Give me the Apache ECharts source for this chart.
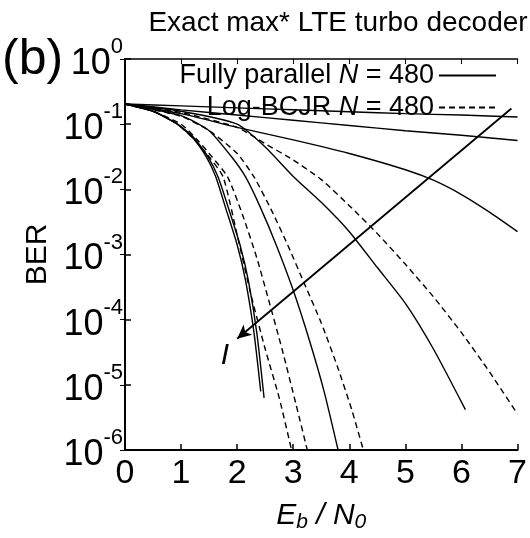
<!DOCTYPE html>
<html>
<head>
<meta charset="utf-8">
<script src="https://cdn.jsdelivr.net/npm/echarts@6/dist/echarts.min.js"></script>
<style>
  html, body { margin: 0; background: #fff; }
  #chart { width: 530px; height: 538px; }
</style>
</head>
<body>
<div id="chart"></div>
<script>
// Eb/N0 points and BER, one pair of arrays per curve
// Fully parallel (solid), iterations increase from S1 to S7
const ebS1 = [0, 1, 2, 3, 4, 5, 6, 7];
const berS1 = [0.204, 0.191, 0.178, 0.166, 0.155, 0.145, 0.138, 0.129];
const ebS2 = [0, 1, 2, 3, 4, 5, 6, 7];
const berS2 = [0.204, 0.166, 0.138, 0.115, 0.0955, 0.0794, 0.0676, 0.0562];
const ebS3 = [0, 1, 2, 3, 4, 5, 5.5, 6, 6.5, 7];
const berS3 = [0.204, 0.145, 0.0891, 0.0575, 0.0355, 0.02, 0.0138, 0.00832, 0.00447, 0.00224];
const ebS4 = [0, 1, 2, 2.5, 3, 3.5, 4, 4.5, 5, 5.5, 6.07];
const berS4 = [0.204, 0.158, 0.1, 0.0447, 0.0158, 0.00631, 0.00224, 6.31e-4, 1.78e-4, 3.55e-5, 4.17e-6];
const ebS5 = [0, 1, 1.5, 1.9, 2.15, 2.4, 2.7, 3.0, 3.3, 3.55, 3.8];
const berS5 = [0.204, 0.135, 0.0794, 0.0316, 0.0155, 0.00562, 0.00138, 2.82e-4, 4.47e-5, 7.94e-6, 1e-6];
const ebS6 = [0, 0.5, 0.92, 1.2, 1.45, 1.62, 1.8, 2.0, 2.15, 2.3, 2.42];
const berS6 = [0.204, 0.158, 0.102, 0.0631, 0.0316, 0.0155, 0.00501, 0.00141, 3.98e-4, 6.31e-5, 7.94e-6];
const ebS7 = [0, 0.5, 0.92, 1.22, 1.48, 1.66, 1.85, 2.05, 2.2, 2.35, 2.48];
const berS7 = [0.204, 0.158, 0.102, 0.0631, 0.0316, 0.0155, 0.00501, 0.00141, 3.98e-4, 6.31e-5, 6.31e-6];

// Log-BCJR (dashed)
const ebD4 = [0, 1, 2, 2.5, 3, 3.5, 4, 4.5, 5, 5.5, 6, 6.5, 7];
const berD4 = [0.204, 0.151, 0.0891, 0.0501, 0.0282, 0.0141, 0.00562, 0.00209, 7.08e-4, 2.24e-4, 6.31e-5, 1.58e-5, 3.55e-6];
const ebD5 = [0, 1, 1.5, 2, 2.3, 2.6, 2.9, 3.2, 3.5, 3.8, 4.05, 4.25];
const berD5 = [0.204, 0.132, 0.0794, 0.0355, 0.0155, 0.00501, 0.00141, 3.55e-4, 8.91e-5, 1.78e-5, 3.98e-6, 1e-6];
const ebD6 = [0, 0.5, 1, 1.3, 1.55, 1.83, 2.1, 2.35, 2.54, 2.8, 3.05, 3.25];
const berD6 = [0.204, 0.158, 0.1, 0.0562, 0.0316, 0.0155, 0.00398, 8.91e-4, 2.34e-4, 3.55e-5, 5.01e-6, 1e-6];
const ebD7 = [0, 0.5, 0.92, 1.25, 1.5, 1.75, 2.0, 2.25, 2.5, 2.75, 2.97];
const berD7 = [0.204, 0.158, 0.102, 0.0562, 0.0316, 0.0155, 0.002, 2.34e-4, 3.55e-5, 6.31e-6, 1e-6];

// arrow pointing towards more iterations, and its "I" label
const arrowFrom = [6.89, 0.174];
const arrowTo = [2.0, 5.1e-5];
const iterLabelAt = [1.78, 2.8e-5];

const xTicks = [0, 1, 2, 3, 4, 5, 6, 7];

const NAME_FP = 'Fully parallel N = 480';
const NAME_LB = 'Log-BCJR N = 480';
const FONT = '"Liberation Sans", Arial, sans-serif';

const solid = [[ebS1, berS1], [ebS2, berS2], [ebS3, berS3], [ebS4, berS4], [ebS5, berS5], [ebS6, berS6], [ebS7, berS7]];
const dashed = [[ebD4, berD4], [ebD5, berD5], [ebD6, berD6], [ebD7, berD7]];

function makeSeries(pair, name, dash) {
  return {
    name: name,
    type: 'line',
    symbol: 'none',
    smooth: 0.2,
    animation: false,
    lineStyle: { color: '#000', width: 1.4, type: dash ? [6, 4] : 'solid' },
    itemStyle: { color: '#000' },
    data: pair[0].map((x, i) => [x, pair[1][i]])
  };
}

const series = solid.map(p => makeSeries(p, NAME_FP, false))
  .concat(dashed.map(p => makeSeries(p, NAME_LB, true)));

// arrow + label hung on the first series
series[0].markLine = {
  silent: true,
  symbol: ['none', 'arrow'],
  symbolSize: [10, 14],
  label: { show: false },
  lineStyle: { color: '#000', width: 1.8, type: 'solid' },
  data: [[{ coord: arrowFrom }, { coord: arrowTo }]]
};
series[0].markPoint = {
  silent: true,
  symbol: 'circle',
  symbolSize: 0,
  label: {
    show: true, formatter: 'I', color: '#000', fontFamily: FONT,
    fontStyle: 'italic', fontSize: 30
  },
  data: [{ coord: iterLabelAt }]
};

const chart = echarts.init(document.getElementById('chart'));

const option = {
  animation: false,
  backgroundColor: '#fff',
  title: {
    text: 'Exact max* LTE turbo decoder',
    left: 333,
    textAlign: 'center',
    top: 4,
    textStyle: { fontFamily: FONT, fontWeight: 'normal', fontSize: 28, color: '#000' }
  },
  graphic: [{
    type: 'text', left: 2, top: 35,
    style: { text: '(b)', font: '50px ' + FONT, fill: '#000' }
  }],
  legend: {
    data: [NAME_FP, NAME_LB],
    orient: 'vertical',
    align: 'right',
    right: 28,
    top: 57,
    itemGap: 5,
    itemWidth: 57,
    itemHeight: 14,
    selectedMode: false,
    itemStyle: { color: 'rgba(0,0,0,0)', borderColor: 'rgba(0,0,0,0)', borderWidth: 0 },
    formatter: name => name === NAME_FP
      ? '{t|Fully parallel }{i|N}{t| = 480}'
      : '{t|Log-BCJR }{i|N}{t| = 480}',
    textStyle: {
      color: '#000',
      rich: {
        t: { fontFamily: FONT, fontSize: 27, color: '#000' },
        i: { fontFamily: FONT, fontSize: 27, fontStyle: 'italic', color: '#000' }
      }
    }
  },
  grid: { left: 125, right: 10, top: 59, bottom: 79 },
  xAxis: [{
    type: 'value',
    min: 0, max: 7, interval: 1,
    name: '{i|E}{s|b}{i| / N}{s|0}',
    nameLocation: 'middle',
    nameGap: 48,
    nameTextStyle: {
      rich: {
        i: { fontFamily: FONT, fontSize: 30, fontStyle: 'italic', color: '#000' },
        s: { fontFamily: FONT, fontSize: 21, fontStyle: 'italic', color: '#000', padding: [14, 0, 0, 0] }
      }
    },
    axisLine: { lineStyle: { color: '#000', width: 2 } },
    axisTick: { inside: true, length: 6, lineStyle: { color: '#000', width: 1.5 } },
    axisLabel: {
      color: '#000', fontFamily: FONT, fontSize: 34, margin: 7,
      formatter: v => xTicks.includes(v) ? String(v) : ''
    },
    splitLine: { show: false }
  }, {
    type: 'value',
    position: 'top',
    min: 0, max: 7, interval: 1,
    axisLine: { lineStyle: { color: '#000', width: 1.5 } },
    axisTick: { inside: true, length: 5, lineStyle: { color: '#000' } },
    axisLabel: { show: false },
    splitLine: { show: false }
  }],
  yAxis: [{
    type: 'log',
    logBase: 10,
    min: 1e-6, max: 1,
    name: 'BER',
    nameLocation: 'middle',
    nameRotate: 90,
    nameGap: 68,
    nameTextStyle: { fontFamily: FONT, fontSize: 30, color: '#000' },
    axisLine: { lineStyle: { color: '#000', width: 2 } },
    axisTick: { inside: true, length: 6, lineStyle: { color: '#000', width: 1.5 } },
    minorTick: { show: false },
    axisLabel: {
      margin: 2,
      formatter: v => '{b|10}{s|' + Math.round(Math.log10(v)) + '}',
      rich: {
        b: { fontFamily: FONT, fontSize: 36, color: '#000', padding: [10, 0, 0, 0] },
        s: { fontFamily: FONT, fontSize: 22, color: '#000', verticalAlign: 'top' }
      }
    },
    splitLine: { show: false }
  }, {
    type: 'log',
    logBase: 10,
    position: 'right',
    min: 1e-6, max: 1,
    axisLine: { show: true, lineStyle: { color: '#000', width: 1.5 } },
    axisTick: { inside: true, length: 5, lineStyle: { color: '#000' } },
    axisLabel: { show: false },
    splitLine: { show: false }
  }],
  series: series
};

chart.setOption(option);
</script>
</body>
</html>
